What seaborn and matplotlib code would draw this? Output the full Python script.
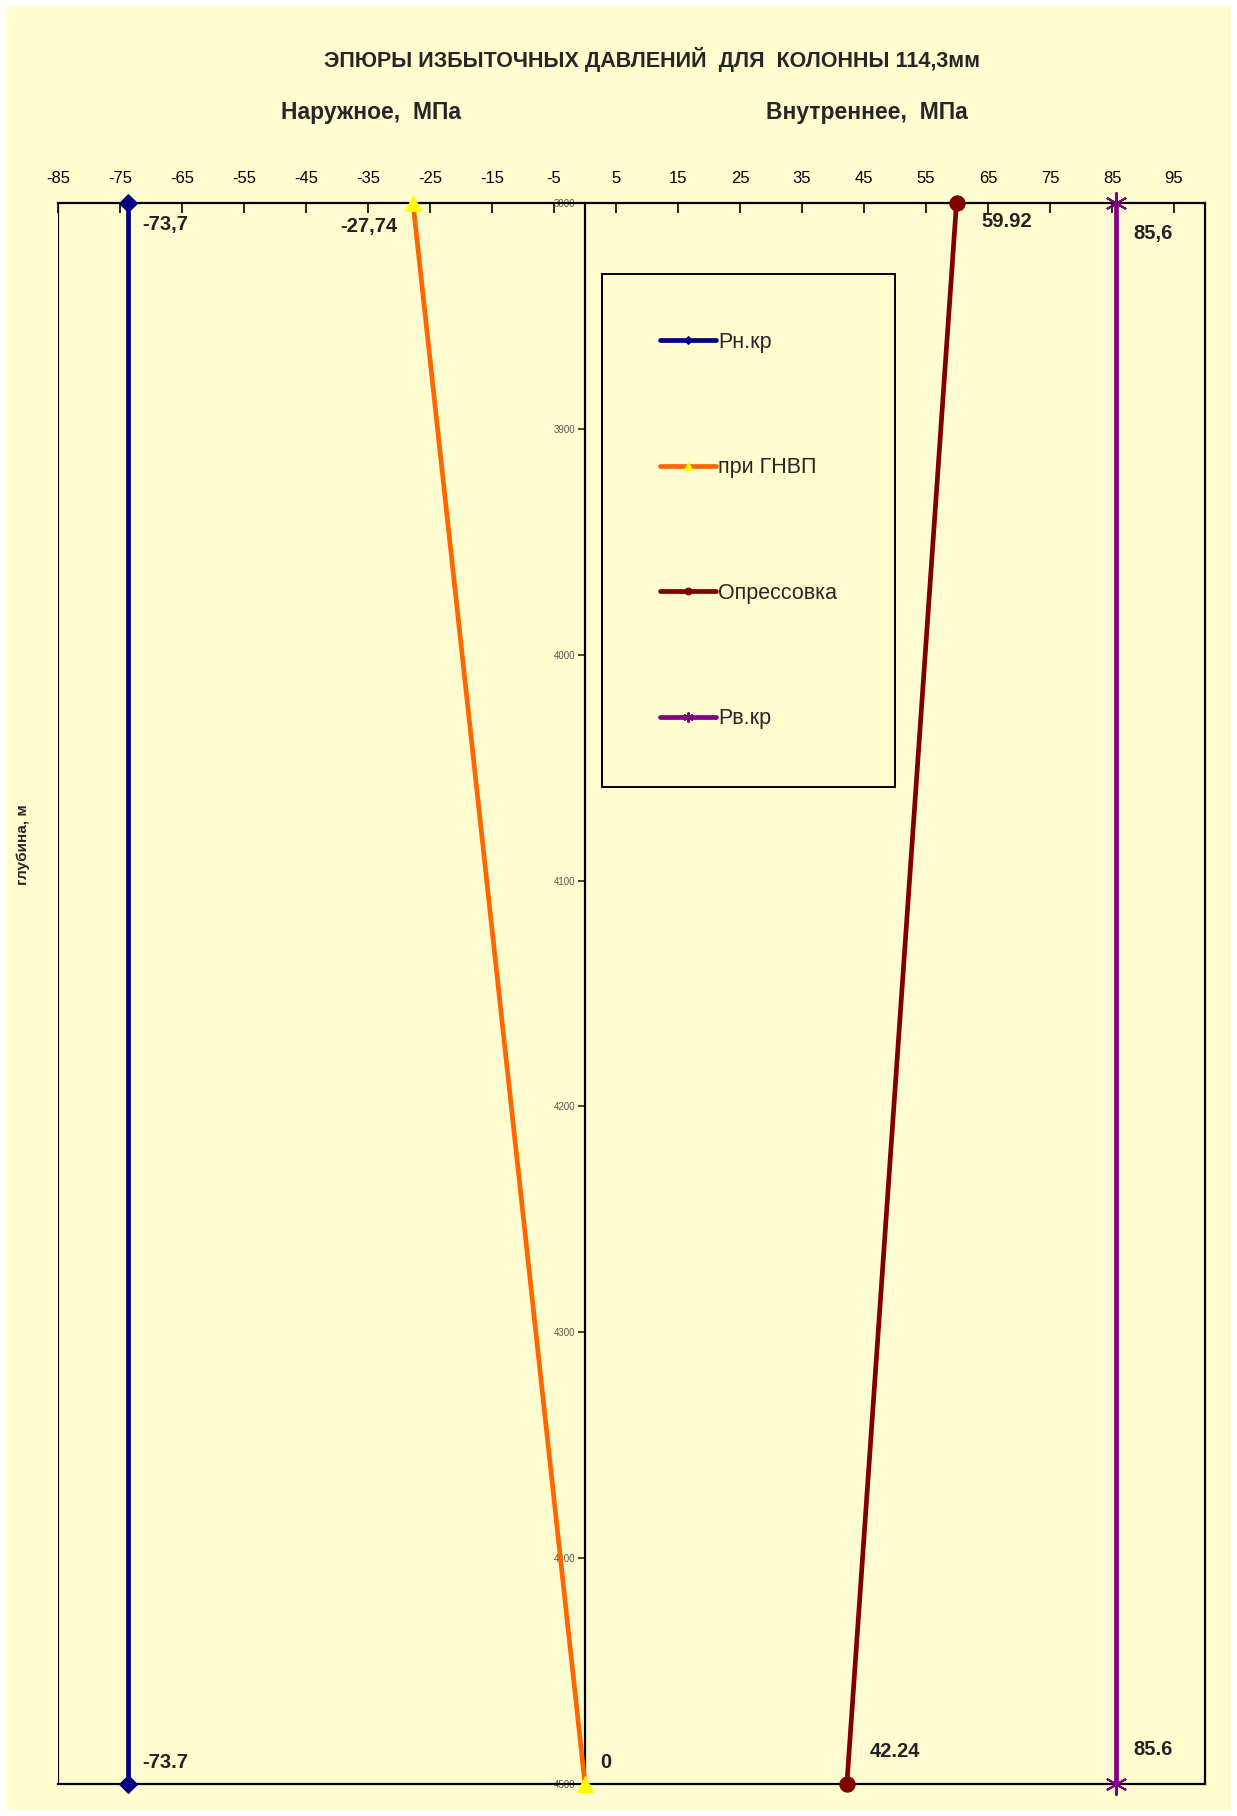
import matplotlib
matplotlib.use("Agg")
import matplotlib.pyplot as plt
from matplotlib.patches import Rectangle
import pandas as pd
import numpy as np
import seaborn as sns

sns.set_style("white")
plt.rcParams['font.family'] = ['Liberation Sans', 'DejaVu Sans']
plt.rcParams['axes.unicode_minus'] = False

# colours (Excel-like)
bg = "#FFFDCF"
navy = "#000080"
orange = "#FF6600"
yellow = "#FFFF00"
darkred = "#800000"
purple = "#800080"

# data: depth (m) and excess pressure (MPa)
depth = [3800, 4500]
p_outer_crit = [-73.7, -73.7]      # Рн.кр
p_gnvp = [-27.74, 0]               # при ГНВП
p_test = [59.92, 42.24]            # Опрессовка
p_inner_crit = [85.6, 85.6]        # Рв.кр

series_names = ["Рн.кр", "при ГНВП", "Опрессовка", "Рв.кр"]
series_values = [p_outer_crit, p_gnvp, p_test, p_inner_crit]
point_labels = [["-73,7", "-73.7"], ["-27,74", "0"], ["59.92", "42.24"], ["85,6", "85.6"]]

x_ticks = list(range(-85, 100, 10))
y_ticks = list(range(3800, 4501, 100))

fig = plt.figure(figsize=(12.37, 18.16), dpi=100)
fig.patch.set_facecolor("white")
fig.patches.append(Rectangle((6 / 1237, 6 / 1816), 1 - 12 / 1237, 1 - 12 / 1816,
                             transform=fig.transFigure, facecolor=bg,
                             edgecolor="none", zorder=-10))
ax = fig.add_axes([58 / 1237, 1 - 1784 / 1816, (1205 - 58) / 1237, (1784 - 203) / 1816])
ax.set_facecolor(bg)

styles = [
    dict(color=navy, marker="D", markersize=9, mfc=navy, mec=navy),
    dict(color=orange, marker="^", markersize=12, mfc=yellow, mec=yellow),
    dict(color=darkred, marker="o", markersize=11, mfc=darkred, mec=darkred),
    dict(color=purple, marker=(6, 2, 0), markersize=16, mfc=purple, mec=purple, mew=1.5),
]

for name, vals, st in zip(series_names, series_values, styles):
    df = pd.DataFrame({"p": vals, "h": depth})
    sns.lineplot(data=df, x="p", y="h", orient="y", ax=ax, label=name,
                 linewidth=3.4, clip_on=False, zorder=3, **st)

# value labels (offsets in pixels)
offsets = [[(14, -22, "left"), (14, 21, "left")],
           [(-16, -24, "right"), (15, 21, "left")],
           [(25, -19, "left"), (23, 32, "left")],
           [(18, -31, "left"), (18, 34, "left")]]
for vals, labs, offs in zip(series_values, point_labels, offsets):
    for v, h, lab, (dx, dy, ha) in zip(vals, depth, labs, offs):
        ax.annotate(lab, (v, h), xytext=(dx, dy), textcoords="offset pixels",
                    ha=ha, va="center", fontsize=14.5, fontweight="bold",
                    color="#222222")

ax.set_xlim(-85, 100)
ax.set_ylim(4500, 3800)
ax.set_xticks(x_ticks)
ax.set_yticks(y_ticks)
ax.xaxis.tick_top()
ax.tick_params(axis="x", direction="in", length=7, width=1.2, labelsize=12,
               pad=12, top=True, bottom=False, colors="black")
ax.tick_params(axis="y", direction="out", length=5, width=1.2, labelsize=7,
               labelcolor="#555555", left=True, pad=2)
ax.spines["left"].set_position(("data", 0))
for s in ax.spines.values():
    s.set_color("black")
    s.set_linewidth(1.6)
ax.axvline(-85, color="black", linewidth=1.6)
ax.set_xlabel("")
ax.set_ylabel("")

leg = ax.legend(loc="upper left", bbox_to_anchor=(0.465, 0.962), frameon=True,
                fancybox=False, edgecolor="black", facecolor=bg, framealpha=1,
                labelspacing=4.85, borderpad=2.7, handlelength=2.6,
                handletextpad=0.08, markerscale=0.45,
                prop={'size': 15.5})
leg.get_frame().set_linewidth(1.4)

fig.text(652 / 1237, 1 - 60 / 1816, "ЭПЮРЫ ИЗБЫТОЧНЫХ ДАВЛЕНИЙ  ДЛЯ  КОЛОННЫ 114,3мм",
         ha="center", va="center", fontsize=15.5, fontweight="bold")
fig.text(371 / 1237, 1 - 113 / 1816, "Наружное,  МПа", ha="center", va="center",
         fontsize=16.5, fontweight="bold")
fig.text(867 / 1237, 1 - 113 / 1816, "Внутреннее,  МПа", ha="center", va="center",
         fontsize=16.5, fontweight="bold")
fig.text(23 / 1237, 1 - 845 / 1816, "глубина, м", ha="center", va="center",
         rotation=90, fontsize=11, fontweight="bold")

fig.savefig("out.png", dpi=100, facecolor=fig.get_facecolor())
